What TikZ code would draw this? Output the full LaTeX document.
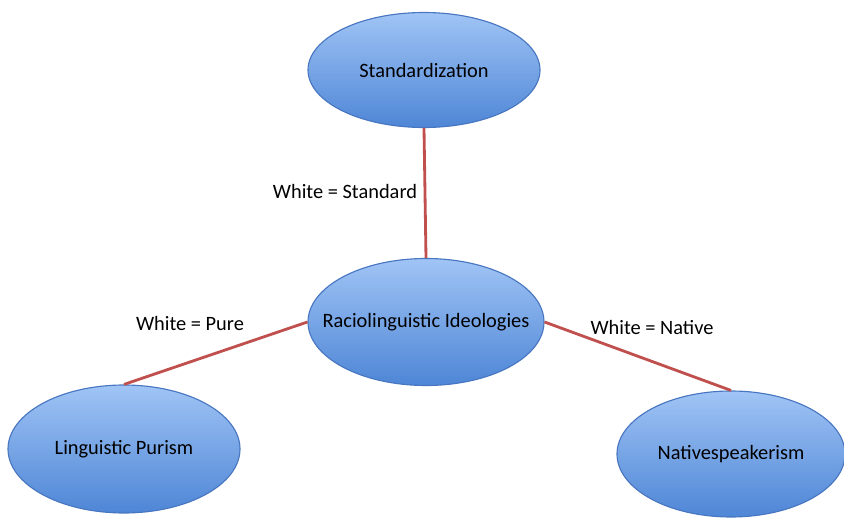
\documentclass[tikz,border=0pt]{standalone}
\usepackage{fontspec}
\setmainfont{Carlito}
\usetikzlibrary{positioning, shapes.geometric}

\definecolor{ideatop}{RGB}{160,196,245}
\definecolor{ideabottom}{RGB}{78,134,214}
\definecolor{ideaborder}{RGB}{72,118,192}
\definecolor{linkred}{RGB}{192,80,77}

\tikzset{
  idea/.style = {ellipse, draw = ideaborder, line width = 0.8pt, top color = ideatop, bottom color = ideabottom, minimum width = 232*0.025cm, minimum height = 122*0.025cm, font = \fontsize{14.5}{16}\selectfont, inner xsep = -18pt, inner ysep = 0pt},
  link/.style = {draw = linkred, line width = 2pt},
  tag/.style = {font = \fontsize{14.5}{16}\selectfont}
}

\begin{document}
\begin{tikzpicture}[x = 0.025cm, y = -0.025cm]
      \useasboundingbox (0, 0) rectangle (844, 519);

      \node[idea, minimum height = 115*0.025cm] (standard) at (424, 70) {Standardization};
      \node[idea, minimum width = 236*0.025cm, minimum height = 127*0.025cm] (racio) at (426, 322) {Raciolinguistic Ideologies};
      \node[idea, minimum height = 128*0.025cm] (purism) at (124, 449) {Linguistic Purism};
      \node[idea, minimum width = 228*0.025cm, minimum height = 126*0.025cm] (native) at (731, 454) {Nativespeakerism};

      % ligações
      \draw[link] (standard.south) -- (racio.north);
      \draw[link] (racio.west) -- (purism.north);
      \draw[link] (racio.east) -- (native.north);

      % rótulos
      \node[tag] (tagstandard) at (345, 191) {White = Standard};
      \node[tag] (tagpure) at (190, 323) {White = Pure};
      \node[tag] (tagnative) at (652, 327) {White = Native};
    \end{tikzpicture}
\end{document}
